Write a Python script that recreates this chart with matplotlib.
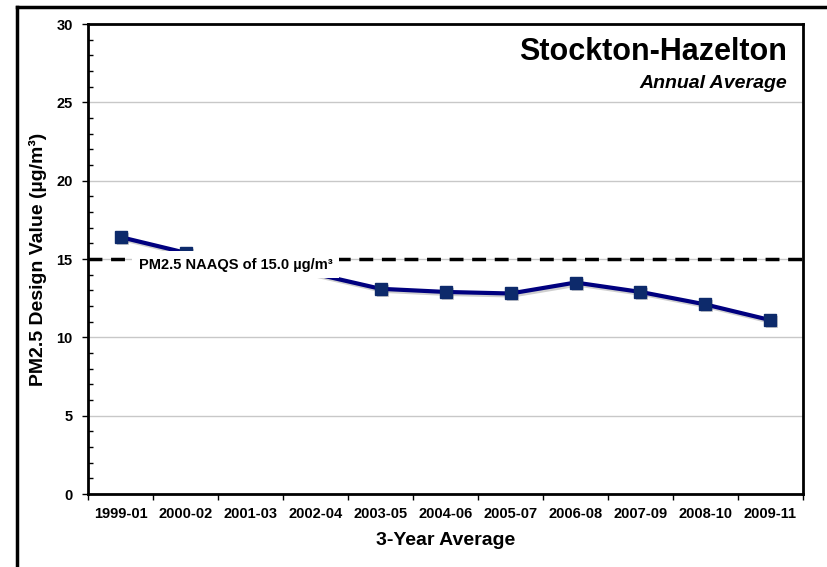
import matplotlib.pyplot as plt
import matplotlib.transforms as mtransforms
from matplotlib.lines import Line2D
from matplotlib.ticker import MultipleLocator

plt.rcParams['font.family'] = ['Liberation Sans', 'DejaVu Sans']

periods = ['1999-01', '2000-02', '2001-03', '2002-04', '2003-05', '2004-06',
           '2005-07', '2006-08', '2007-09', '2008-10', '2009-11']
# 2002-04 has no design value; the line bridges the gap
design_values = [16.4, 15.4, 15.0, None, 13.1, 12.9, 12.8, 13.5, 12.9, 12.1, 11.1]
naaqs = 15.0

fig = plt.figure(figsize=(8.28, 5.67), dpi=100)
ax = fig.add_axes([0.1063, 0.1287, 0.8635, 0.8289])

xs = [i for i, v in enumerate(design_values) if v is not None]
ys = [v for v in design_values if v is not None]

# gridlines and standard
ax.yaxis.grid(True, color='#c8c8c8', lw=1, zorder=0)
ax.axhline(naaqs, color='black', lw=2.5, ls=(0, (4, 2.5)), zorder=2)

# soft drop shadow, then the series
shadow = mtransforms.offset_copy(ax.transData, fig=fig, x=2, y=-2, units='dots')
ax.plot(xs, ys, color='#777777', alpha=0.35, lw=3, marker='s', ms=9,
        markeredgewidth=0, transform=shadow, zorder=2.5)
ax.plot(xs, ys, color='#00007f', lw=3, marker='s', ms=9,
        markerfacecolor='#0d2a6b', markeredgecolor='#0d2a6b', zorder=3)

ax.text(0.28, 14.65, 'PM2.5 NAAQS of 15.0 µg/m³', fontsize=10.5,
        fontweight='bold', ha='left', va='center', zorder=5,
        bbox=dict(facecolor='white', edgecolor='none', pad=4.5))

ax.set_xlim(-0.5, len(periods) - 0.5)
ax.set_ylim(0, 30)
ax.set_xticks(range(len(periods)))
ax.set_xticklabels(periods, fontsize=10.5, fontweight='bold')
ax.set_xticks([i - 0.5 for i in range(len(periods) + 1)], minor=True)
ax.tick_params(axis='x', which='major', length=0, pad=9)
ax.tick_params(axis='x', which='minor', length=4, direction='out', width=1)
ax.yaxis.set_major_locator(MultipleLocator(5))
ax.yaxis.set_minor_locator(MultipleLocator(1))
ax.tick_params(axis='y', which='major', labelsize=10.5, length=4, pad=7,
               direction='out', width=1)
ax.tick_params(axis='y', which='minor', length=3.5, direction='in', width=1)
for lbl in ax.get_yticklabels():
    lbl.set_fontweight('bold')
for s in ax.spines.values():
    s.set_linewidth(2)

ax.set_xlabel('3-Year Average', fontsize=14, fontweight='bold', labelpad=8)
ax.set_ylabel('PM2.5 Design Value (µg/m³)', fontsize=14,
              fontweight='bold', labelpad=7)

ax.text(0.978, 0.923, 'Stockton-Hazelton', transform=ax.transAxes,
        fontsize=22, fontweight='bold', ha='right', va='baseline')
ax.text(0.978, 0.864, 'Annual Average', transform=ax.transAxes,
        fontsize=14, fontweight='bold', style='italic', ha='right', va='baseline')

# outer frame (left and top edges)
fig.add_artist(Line2D([17 / 828, 17 / 828], [0, 1 - 7 / 567], color='black', lw=2.5))
fig.add_artist(Line2D([17 / 828, 1], [1 - 7 / 567, 1 - 7 / 567], color='black', lw=2.5))

fig.savefig('out.png', dpi=100)
